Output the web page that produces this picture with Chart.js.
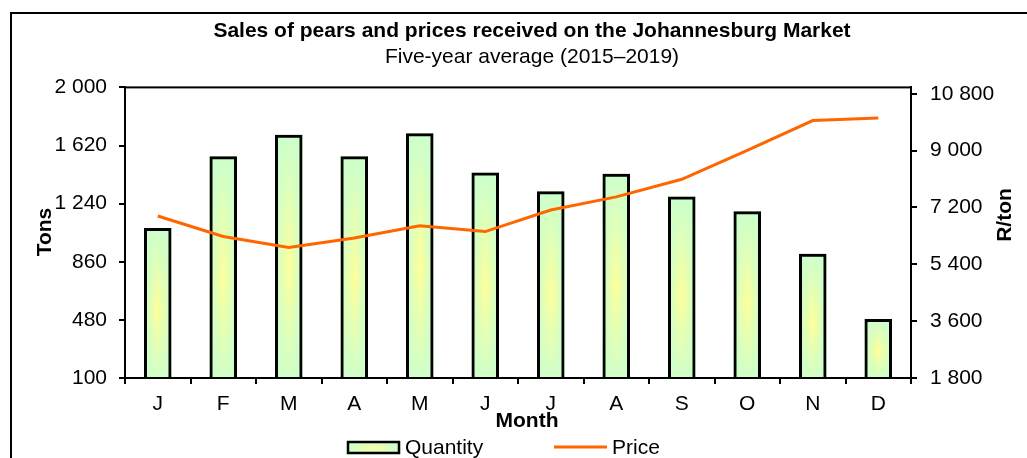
<!DOCTYPE html>
<html>
<head>
<meta charset="utf-8">
<script src="https://cdn.jsdelivr.net/npm/chart.js@4/dist/chart.umd.min.js"></script>
<style>
  html, body { margin: 0; padding: 0; background: #fff; }
  #wrap { width: 1027px; height: 458px; position: relative; }
</style>
</head>
<body>
<div id="wrap"><canvas id="pearChart"></canvas></div>
<script>
// chart data
const months = ['J', 'F', 'M', 'A', 'M', 'J', 'J', 'A', 'S', 'O', 'N', 'D'];
const quantityTons = [1080, 1550, 1690, 1550, 1700, 1443, 1321, 1436, 1286, 1190, 912, 485];
const priceRandPerTon = [6930, 6280, 5930, 6230, 6620, 6435, 7120, 7535, 8090, 9005, 9950, 10035];
const tonsTicks = [100, 480, 860, 1240, 1620, 2000];
const priceTicks = [1800, 3600, 5400, 7200, 9000, 10800];

const FONT = "'Liberation Sans', Arial, sans-serif";
const GREEN = '#ccffcc';
const YELLOW = '#ffff99';
const ORANGE = '#ff6600';

Chart.defaults.font.family = FONT;
Chart.defaults.font.size = 21;
Chart.defaults.color = '#000';

function spaced(v) {
    return String(v).replace(/\B(?=(\d{3})+(?!\d))/g, ' ');
}

// green edges, yellow middle
function fillPear(ctx, x0, y0, w, h) {
    const hg = ctx.createLinearGradient(x0, 0, x0 + w, 0);
    hg.addColorStop(0, GREEN);
    hg.addColorStop(0.5, YELLOW);
    hg.addColorStop(1, GREEN);
    ctx.fillStyle = hg;
    ctx.fillRect(x0, y0, w, h);
    const vg = ctx.createLinearGradient(0, y0, 0, y0 + h);
    vg.addColorStop(0, 'rgba(204,255,204,1)');
    vg.addColorStop(0.55, 'rgba(204,255,204,0)');
    vg.addColorStop(1, 'rgba(204,255,204,0.9)');
    ctx.fillStyle = vg;
    ctx.fillRect(x0, y0, w, h);
}

const barGradient = {
    id: 'barGradient',
    beforeDatasetDraw(chart, args) {
        if (args.meta.type !== 'bar') return;
        const ctx = chart.ctx;
        const area = chart.chartArea;
        ctx.save();
        args.meta.data.forEach(bar => {
            const p = bar.getProps(['x', 'y', 'base', 'width'], true);
            const bottom = Math.min(p.base, area.bottom);
            fillPear(ctx, p.x - p.width / 2, p.y, p.width, bottom - p.y);
        });
        ctx.restore();
    }
};

const frameAndLabels = {
    id: 'frameAndLabels',
    afterDraw(chart) {
        const ctx = chart.ctx;
        const area = chart.chartArea;
        ctx.save();
        // outer frame (runs off the right and bottom edges)
        ctx.strokeStyle = '#000';
        ctx.lineWidth = 2;
        ctx.strokeRect(11, 13, 1100, 500);
        // plot box
        ctx.strokeRect(area.left, area.top, area.right - area.left, area.bottom - area.top);

        // axis titles
        ctx.fillStyle = '#000';
        ctx.font = 'bold 21px ' + FONT;
        ctx.textAlign = 'center';
        ctx.textBaseline = 'middle';
        ctx.fillText('Month', 527, 421);
        ctx.save();
        ctx.translate(45, 232);
        ctx.rotate(-Math.PI / 2);
        ctx.fillText('Tons', 0, 0);
        ctx.restore();
        ctx.save();
        ctx.translate(1005, 215);
        ctx.rotate(-Math.PI / 2);
        ctx.fillText('R/ton', 0, 0);
        ctx.restore();

        // legend
        fillPear(ctx, 347, 442, 52, 11);
        ctx.strokeStyle = '#000';
        ctx.lineWidth = 2.5;
        ctx.strokeRect(348, 442, 51, 11);
        ctx.fillStyle = '#000';
        ctx.font = '21px ' + FONT;
        ctx.textAlign = 'left';
        ctx.fillText(chart.data.datasets[0].label, 405, 448);
        ctx.strokeStyle = ORANGE;
        ctx.lineWidth = 3;
        ctx.beginPath();
        ctx.moveTo(554, 447);
        ctx.lineTo(607, 447);
        ctx.stroke();
        ctx.fillText(chart.data.datasets[1].label, 612, 448);
        ctx.restore();
    }
};

const ctx = document.getElementById('pearChart');
new Chart(ctx, {
    type: 'bar',
    data: {
        labels: months,
        datasets: [{
            type: 'bar',
            label: 'Quantity',
            data: quantityTons,
            yAxisID: 'y',
            backgroundColor: 'rgba(0,0,0,0)',
            borderColor: '#000',
            borderWidth: 3,
            barPercentage: 0.42,
            categoryPercentage: 1,
            order: 2
        }, {
            type: 'line',
            label: 'Price',
            data: priceRandPerTon,
            yAxisID: 'y1',
            borderColor: ORANGE,
            borderWidth: 3,
            pointRadius: 0,
            tension: 0,
            order: 1
        }]
    },
    options: {
        responsive: true,
        maintainAspectRatio: false,
        animation: false,
        devicePixelRatio: 1,
        layout: { padding: { left: 37, right: 0, top: 0, bottom: 0 } },
        plugins: {
            legend: { display: false },
            tooltip: { enabled: false },
            title: {
                display: true,
                text: 'Sales of pears and prices received on the Johannesburg Market',
                font: { size: 21, weight: 'bold' },
                color: '#000',
                padding: { top: 19, bottom: 0 }
            },
            subtitle: {
                display: true,
                text: 'Five-year average (2015\u20132019)',
                font: { size: 21, weight: 'normal' },
                color: '#000',
                padding: { top: 0, bottom: 18 }
            }
        },
        scales: {
            x: {
                offset: true,
                grid: { drawOnChartArea: false, drawTicks: true, tickLength: 6, color: '#000', lineWidth: 2, offset: true },
                border: { display: true, color: '#000', width: 2 },
                ticks: { padding: 8, maxRotation: 0, autoSkip: false },
                afterFit(scale) { scale.height = 80; }
            },
            y: {
                position: 'left',
                min: 100,
                max: 2000,
                afterBuildTicks(scale) { scale.ticks = tonsTicks.map(v => ({ value: v })); },
                grid: { drawOnChartArea: false, drawTicks: true, tickLength: 6, color: '#000', lineWidth: 2 },
                border: { display: true, color: '#000', width: 2 },
                ticks: { padding: 12, callback: v => spaced(v) },
                afterFit(scale) { scale.width = 88; }
            },
            y1: {
                position: 'right',
                min: 1800,
                max: 11000,
                afterBuildTicks(scale) { scale.ticks = priceTicks.map(v => ({ value: v })); },
                grid: { drawOnChartArea: false, drawTicks: true, tickLength: 6, color: '#000', lineWidth: 2 },
                border: { display: true, color: '#000', width: 2 },
                ticks: { padding: 13, callback: v => spaced(v) },
                afterFit(scale) { scale.width = 116; }
            }
        }
    },
    plugins: [barGradient, frameAndLabels]
});
</script>
</body>
</html>
